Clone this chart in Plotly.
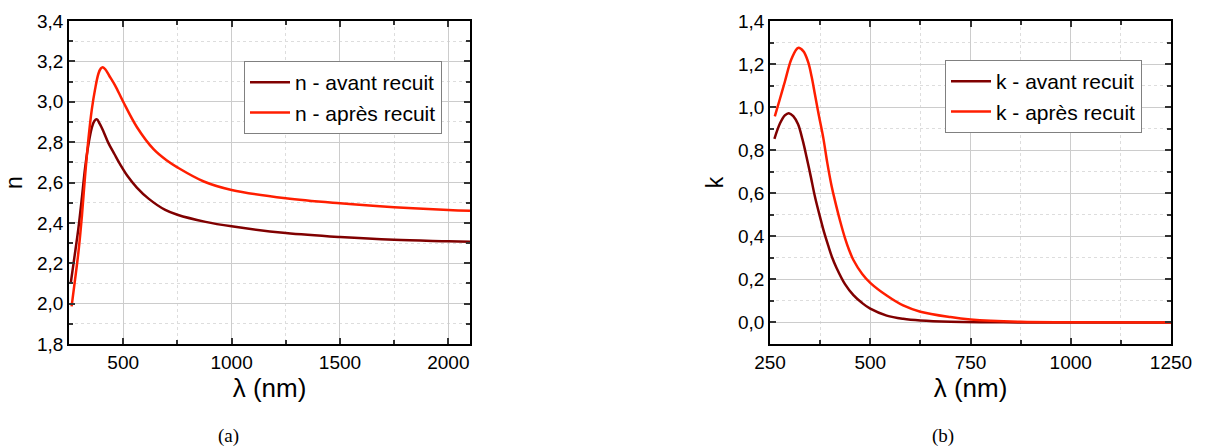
import plotly.graph_objects as go

# ---- data ----
lam_n_avant = [258, 275, 293, 310, 324, 340, 355, 367, 378, 392, 410, 432, 460, 486, 520, 563, 617, 694, 750, 880, 1000, 1250, 1500, 1750, 2000, 2100]
n_avant = [2.10, 2.23, 2.37, 2.53, 2.67, 2.79, 2.87, 2.905, 2.913, 2.89, 2.85, 2.795, 2.74, 2.69, 2.632, 2.575, 2.52, 2.464, 2.44, 2.405, 2.383, 2.35, 2.33, 2.316, 2.309, 2.306]

lam_n_apres = [262, 278, 293, 310, 324, 340, 355, 370, 386, 397, 406, 418, 435, 463, 500, 563, 640, 700, 750, 872, 1000, 1250, 1500, 1750, 2000, 2100]
n_apres = [1.986, 2.12, 2.25, 2.44, 2.63, 2.82, 2.96, 3.06, 3.14, 3.165, 3.171, 3.16, 3.13, 3.08, 3.0, 2.875, 2.765, 2.71, 2.675, 2.605, 2.563, 2.522, 2.497, 2.478, 2.464, 2.46]

lam_k_avant = [261, 275, 287, 297, 308, 320, 331, 341, 352, 362, 375, 385, 395, 405, 416, 437, 458, 480, 500, 541, 582, 625, 700, 800, 900, 1250]
k_avant = [0.853, 0.925, 0.962, 0.972, 0.958, 0.92, 0.85, 0.77, 0.675, 0.585, 0.488, 0.418, 0.358, 0.302, 0.253, 0.178, 0.127, 0.09, 0.064, 0.032, 0.017, 0.009, 0.003, 0.001, 0.0, 0.0]

lam_k_apres = [262, 275, 287, 304, 320, 333, 345, 354, 362, 372, 383, 393, 404, 412, 425, 437, 447, 458, 480, 500, 541, 582, 625, 700, 750, 875, 1000, 1250]
k_apres = [0.957, 1.04, 1.118, 1.226, 1.275, 1.26, 1.21, 1.14, 1.06, 0.96, 0.856, 0.74, 0.63, 0.566, 0.47, 0.392, 0.338, 0.29, 0.225, 0.184, 0.125, 0.079, 0.05, 0.025, 0.014, 0.003, 0.001, 0.0]

names_n = ["n - avant recuit", "n - après recuit"]
names_k = ["k - avant recuit", "k - après recuit"]
colors = ["#800000", "#ff1e00"]

FONT = "Liberation Sans, Arial, sans-serif"

fig = go.Figure()
series = [
    (lam_n_avant, n_avant, names_n[0], colors[0], "x", "y", "legend"),
    (lam_n_apres, n_apres, names_n[1], colors[1], "x", "y", "legend"),
    (lam_k_avant, k_avant, names_k[0], colors[0], "x2", "y2", "legend2"),
    (lam_k_apres, k_apres, names_k[1], colors[1], "x2", "y2", "legend2"),
]
for xs, ys, nm, col, xa, ya, lg in series:
    fig.add_trace(go.Scatter(x=xs, y=ys, name=nm, mode="lines",
                             line=dict(color=col, width=2.5, shape="spline", smoothing=1.0),
                             xaxis=xa, yaxis=ya, legend=lg))

W, H = 1206, 447


def axis_common(**kw):
    d = dict(showline=True, linecolor="black", linewidth=1.5, mirror="allticks",
             ticks="inside", ticklen=6, tickwidth=1.5, tickcolor="#333",
             showgrid=True, gridcolor="#cccccc", gridwidth=1, zeroline=False,
             tickfont=dict(family=FONT, size=19, color="black"),
             automargin=False, layer="above traces")
    d.update(kw)
    return d


def minor(d):
    return dict(tick0=0, dtick=d, ticks="inside", ticklen=4, tickcolor="#333",
                showgrid=True, gridcolor="#dddddd", griddash="dot")


ydom = [(H - 344) / H, (H - 21) / H]

fig.update_layout(
    width=W, height=H, autosize=False,
    margin=dict(l=0, r=0, t=0, b=0),
    paper_bgcolor="white", plot_bgcolor="white",
    separators=", ",
    font=dict(family=FONT, color="black"),
    xaxis=axis_common(domain=[69 / W, 470 / W], anchor="y", range=[250, 2100],
                      tick0=0, dtick=500, minor=minor(250),
                      title=dict(text="λ (nm)", font=dict(family=FONT, size=26), standoff=6)),
    yaxis=axis_common(domain=ydom, anchor="x", range=[1.8, 3.4], tick0=0, dtick=0.2,
                      tickformat=".1f", minor=minor(0.1),
                      title=dict(text="n", font=dict(family=FONT, size=23), standoff=8)),
    xaxis2=axis_common(domain=[770 / W, 1171 / W], anchor="y2", range=[250, 1250],
                       tick0=0, dtick=250, minor=minor(125),
                       title=dict(text="λ (nm)", font=dict(family=FONT, size=26), standoff=6)),
    yaxis2=axis_common(domain=ydom, anchor="x2", range=[-0.1, 1.4], tick0=0, dtick=0.2,
                       tickformat=".1f", minor=minor(0.1),
                       title=dict(text="k", font=dict(family=FONT, size=23), standoff=8)),
    legend=dict(x=244 / W, y=1 - 61 / H, xanchor="left", yanchor="top",
                bordercolor="#808080", borderwidth=1, bgcolor="white",
                font=dict(family=FONT, size=21), tracegroupgap=0, itemwidth=40),
    legend2=dict(x=945 / W, y=1 - 60 / H, xanchor="left", yanchor="top",
                 bordercolor="#808080", borderwidth=1, bgcolor="white",
                 font=dict(family=FONT, size=21), tracegroupgap=0, itemwidth=40),
    annotations=[
        dict(text="(a)", x=228 / W, y=(H - 436) / H, xref="paper", yref="paper",
             xanchor="center", yanchor="middle",
             showarrow=False, font=dict(family="Liberation Serif, DejaVu Serif, serif", size=19)),
        dict(text="(b)", x=943 / W, y=(H - 436) / H, xref="paper", yref="paper",
             xanchor="center", yanchor="middle",
             showarrow=False, font=dict(family="Liberation Serif, DejaVu Serif, serif", size=19)),
    ],
)

fig.write_html("out.html", config={"displayModeBar": False},
               post_script="document.body.style.margin='0px';document.body.style.overflow='hidden';")
